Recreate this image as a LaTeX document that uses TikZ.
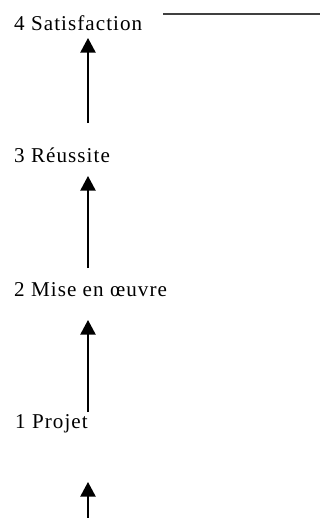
\documentclass[tikz,border=0pt]{standalone}
\usepackage{fontspec}
\setmainfont{Liberation Serif}[LetterSpace=5]
\usetikzlibrary{arrows.meta}
\begin{document}
\begin{tikzpicture}[x=0.03cm, y=-0.03cm,
	stage/.style={anchor=base west, inner sep=0pt, font=\fontsize{18}{21}\selectfont},
	arr/.style={line width=1.2pt, -{Triangle[length=0.44cm, width=0.46cm]}}]
	% Fix the page size
	\useasboundingbox (0,0) rectangle (320,518);
	
	% Stages, from top to bottom
	\node[stage] (satisf) at (14,30) {4 Satisfaction};
	\node[stage] (reussite) at (14,162) {3 Réussite};
	\node[stage] (mise) at (14,296) {2 Mise en œuvre};
	\node[stage] (projet) at (15,428) {1 Projet};
	
	% Axis of the arrows and free end at the bottom
	\coordinate (axis) at (88,0);
	\coordinate (start) at (88,518);
	
	% Arrows between the stages
	\draw[arr, shorten <=1.17cm, shorten >=0.24cm] (reussite.base -| axis) -- (satisf.base -| axis);
	\draw[arr, shorten <=0.84cm, shorten >=0.42cm] (mise.base -| axis) -- (reussite.base -| axis);
	\draw[arr, shorten <=0.48cm, shorten >=0.72cm] (projet.base -| axis) -- (mise.base -| axis);
	\draw[arr, shorten >=1.62cm] (start) -- (projet.base -| axis);
	
	% Line at the top right
	\draw[line width=1.6pt, black!75] (163,14) -- (320,14);
\end{tikzpicture}
\end{document}
